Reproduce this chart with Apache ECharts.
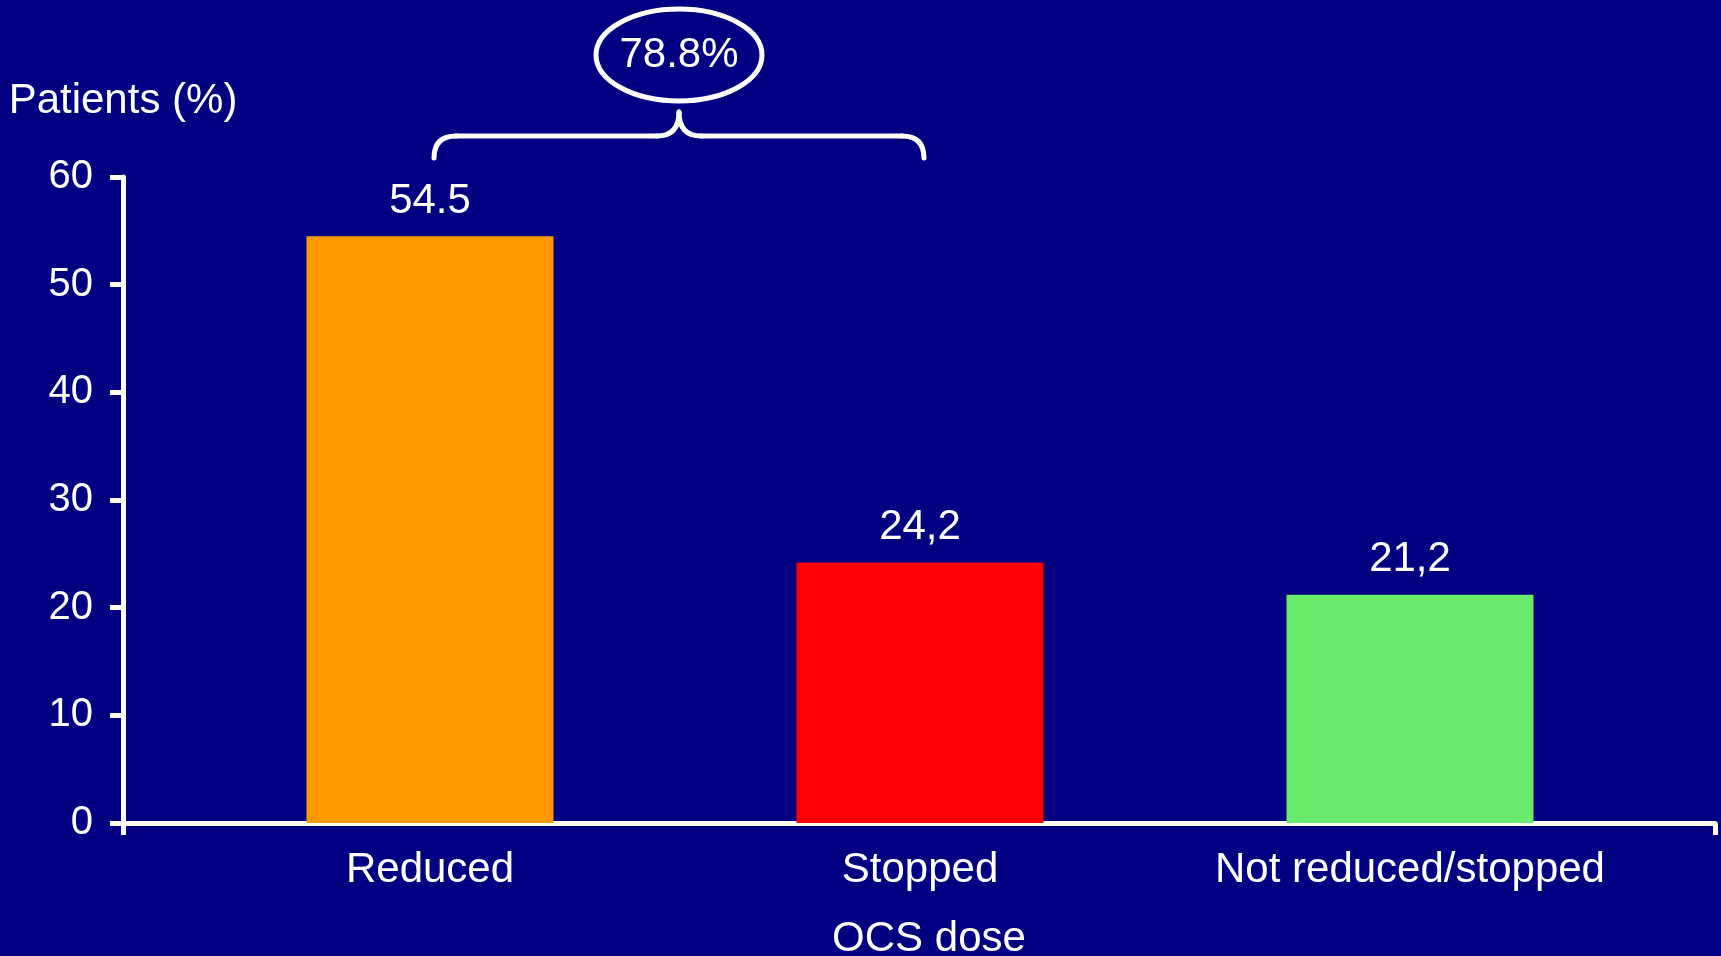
<!DOCTYPE html>
<html>
<head>
<meta charset="utf-8">
<script src="https://cdn.jsdelivr.net/npm/echarts@6/dist/echarts.min.js"></script>
<style>
  html, body { margin: 0; padding: 0; background: #000080; }
  #chart { width: 1721px; height: 956px; }
</style>
</head>
<body>
<div id="chart"></div>
<script>
// OCS dose outcome categories and share of patients (%)
const categories = ['Reduced', 'Stopped', 'Not reduced/stopped'];
const patientPct = [54.5, 24.2, 21.2];
const decimalSep = ['.', ',', ','];
const barColors = ['#FF9900', '#FF0000', '#6AEA6A'];
const yTicks = [0, 10, 20, 30, 40, 50, 60];
const combinedLabel = '78.8%';

const FONT = 'Liberation Sans, Arial, sans-serif';
const WHITE = '#FFFFFF';
const TEXT_SIZE = 42;

const chart = echarts.init(document.getElementById('chart'), null, { renderer: 'canvas' });

const yMin = yTicks[0];
const yMax = yTicks[yTicks.length - 1];
const yStep = yTicks[1] - yTicks[0];

const option = {
  backgroundColor: '#000080',
  animation: false,
  grid: [
    // frame grid: carries the axes
    { left: 123, right: 6, top: 177, bottom: 133, containLabel: false, outerBoundsMode: 'none' },
    // bar grid: carries the categories
    { left: 185, right: 66, top: 177, bottom: 133, containLabel: false, outerBoundsMode: 'none' }
  ],
  xAxis: [
    {
      gridIndex: 0, type: 'value', min: 0, max: 1, interval: 1,
      axisLine: { show: true, lineStyle: { color: WHITE, width: 5 } },
      axisTick: { show: true, length: 12, lineStyle: { color: WHITE, width: 5 } },
      axisLabel: { show: false },
      splitLine: { show: false },
      name: 'OCS dose', nameLocation: 'middle', nameGap: 95,
      nameTextStyle: { color: WHITE, fontSize: TEXT_SIZE, fontFamily: FONT, padding: [0, 0, 0, 20] }
    },
    {
      gridIndex: 1, type: 'category', data: categories,
      axisLine: { show: false }, axisTick: { show: false },
      axisLabel: { color: WHITE, fontSize: TEXT_SIZE, fontFamily: FONT, margin: 26, interval: 0 }
    }
  ],
  yAxis: [
    {
      gridIndex: 0, type: 'value', min: yMin, max: yMax, interval: yStep,
      axisLine: { show: true, lineStyle: { color: WHITE, width: 5 } },
      axisTick: { show: true, length: 13, lineStyle: { color: WHITE, width: 5 } },
      axisLabel: { color: WHITE, fontSize: 40, fontFamily: FONT, margin: 30 },
      splitLine: { show: false },
      name: 'Patients (%)', nameLocation: 'end', nameGap: 76,
      nameTextStyle: { color: WHITE, fontSize: TEXT_SIZE, fontFamily: FONT, align: 'center', verticalAlign: 'middle' }
    },
    {
      gridIndex: 1, type: 'value', min: yMin, max: yMax, interval: yStep,
      show: false
    }
  ],
  series: [{
    type: 'bar',
    xAxisIndex: 1, yAxisIndex: 1,
    barWidth: '50.4%',
    data: patientPct.map((v, i) => ({ value: v, itemStyle: { color: barColors[i] } })),
    label: {
      show: true, position: 'top', distance: 14,
      color: WHITE, fontSize: TEXT_SIZE, fontFamily: FONT,
      formatter: p => String(p.value).replace('.', decimalSep[p.dataIndex])
    }
  }]
};

chart.setOption(option);

// Brace joining the first two bars, with the combined share in an ellipse
const left = chart.convertToPixel({ xAxisIndex: 1 }, categories[0]) + 4;
const right = chart.convertToPixel({ xAxisIndex: 1 }, categories[1]) + 4;
const mid = (left + right) / 2;
const yEnd = 158, yBar = 136, yTip = 112, r = 22;

const braceStyle = { stroke: WHITE, lineWidth: 5, fill: null, lineCap: 'round' };
const curve = (x1, y1, x2, y2, cpx, cpy) => ({
  type: 'bezierCurve',
  shape: { x1, y1, x2, y2, cpx1: cpx, cpy1: cpy },
  style: braceStyle
});
const segment = (x1, y1, x2, y2) => ({
  type: 'line',
  shape: { x1, y1, x2, y2 },
  style: braceStyle
});

const cx = mid, cy = 55, rx = 83, ry = 46;

chart.setOption({
  graphic: [
    curve(left, yEnd, left + r, yBar, left, yBar),
    segment(left + r, yBar, mid - r, yBar),
    curve(mid - r, yBar, mid, yTip, mid, yBar),
    curve(mid, yTip, mid + r, yBar, mid, yBar),
    segment(mid + r, yBar, right - r, yBar),
    curve(right - r, yBar, right, yEnd, right, yBar),
    {
      type: 'ellipse',
      shape: { cx, cy, rx, ry },
      style: { fill: null, stroke: WHITE, lineWidth: 5 }
    },
    {
      type: 'text',
      x: cx, y: 55,
      style: {
        text: combinedLabel, fill: WHITE, fontSize: TEXT_SIZE, fontFamily: FONT,
        align: 'center', verticalAlign: 'middle'
      }
    }
  ]
});
</script>
</body>
</html>
